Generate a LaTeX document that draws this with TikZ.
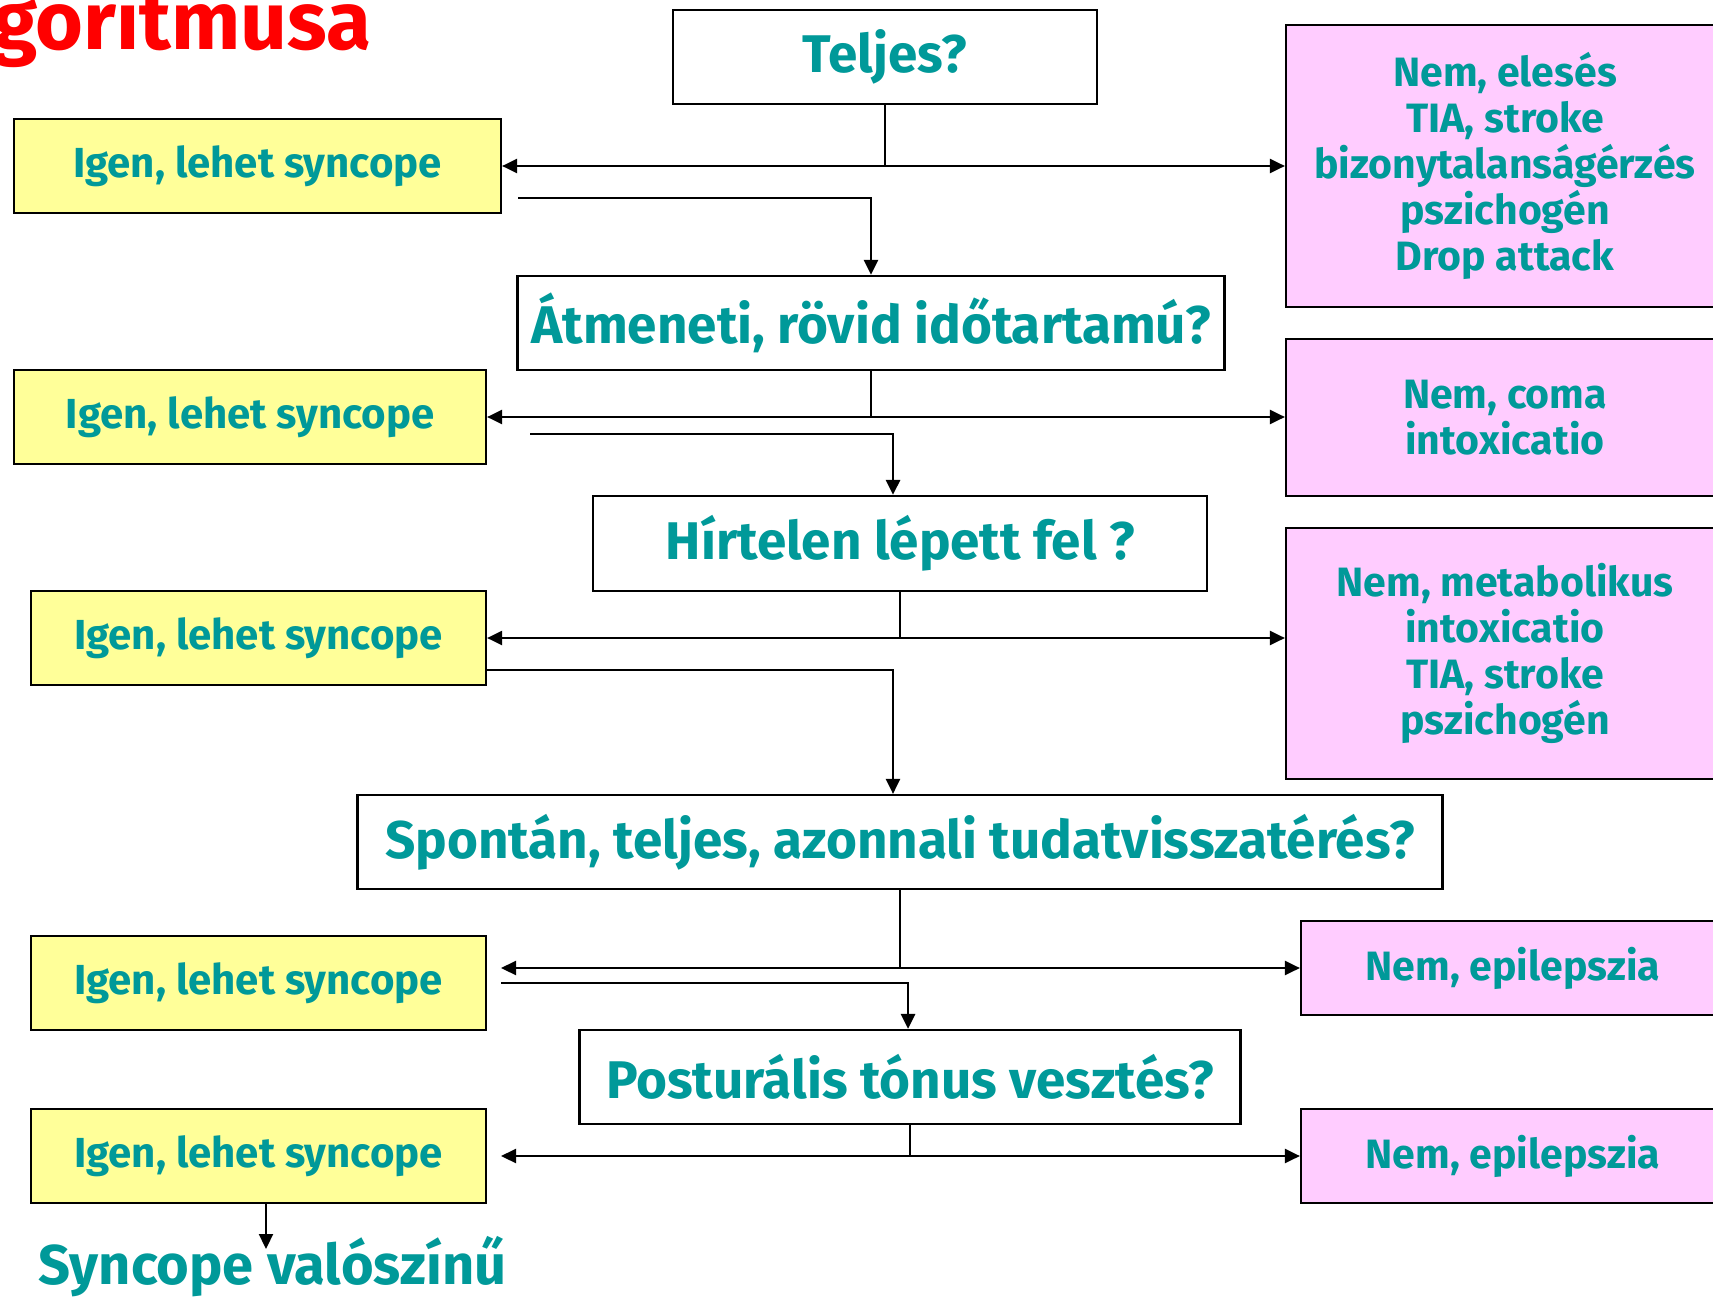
\documentclass[tikz,border=0pt]{standalone}
\usepackage{fontspec}
\setmainfont{Fira Sans}
\usetikzlibrary{arrows.meta}
\definecolor{tealc}{RGB}{0,153,153}
\definecolor{yelc}{RGB}{255,255,153}
\definecolor{pinkc}{RGB}{255,204,255}
\begin{document}
\begin{tikzpicture}[x=1pt,y=-1pt,
  box/.style={draw=black, line width=2.2pt, inner sep=0pt, text=tealc, align=center},
  qbox/.style={box, fill=white, font=\bfseries\fontsize{53}{60}\selectfont},
  ybox/.style={box, fill=yelc, font=\bfseries\fontsize{42}{46}\selectfont},
  pbox/.style={box, fill=pinkc, font=\bfseries\fontsize{41}{46}\selectfont},
  conn/.style={line width=2.2pt},
  arr/.style={conn, -{Triangle[length=15pt,width=14pt]}},
  thick conn/.style={line width=2.8pt},
  tarr/.style={thick conn, -{Triangle[length=15pt,width=14pt]}},
]
\useasboundingbox (0,0) rectangle (1713,1298);
\clip (0,0) rectangle (1713,1298);
\fill[white] (0,0) rectangle (1713,1298);

% title fragment
\node[anchor=base west, text=red, font=\bfseries\fontsize{82}{90}\selectfont, inner sep=0pt] (title) at (-8,49) {goritmusa};

% questions
\node[qbox, minimum width=424pt, minimum height=94pt] (q1) at (885,57) {Teljes?};
\node[qbox, minimum width=707pt, minimum height=94pt] (q2) at (871,323) {Átmeneti, rövid időtartamú?};
\node[qbox, minimum width=614pt, minimum height=95pt] (q3) at (900,543.5) {Hírtelen lépett fel ?};
\node[qbox, minimum width=1085pt, minimum height=94pt] (q4) at (900,842) {Spontán, teljes, azonnali tudatvisszatérés?};
\node[qbox, minimum width=661pt, minimum height=94pt] (q5) at (910,1077) {Posturális tónus vesztés?};

% yes boxes
\node[ybox, minimum width=487pt, minimum height=94pt] (y1) at (257.5,166) {Igen, lehet syncope};
\node[ybox, minimum width=472pt, minimum height=94pt] (y2) at (250,417) {Igen, lehet syncope};
\node[ybox, minimum width=455pt, minimum height=94pt] (y3) at (258.5,638) {Igen, lehet syncope};
\node[ybox, minimum width=455pt, minimum height=94pt] (y4) at (258.5,983) {Igen, lehet syncope};
\node[ybox, minimum width=455pt, minimum height=94pt] (y5) at (258.5,1156) {Igen, lehet syncope};

% no boxes
\node[pbox, minimum width=438pt, minimum height=282pt] (p1) at (1505,166) {Nem, elesés\\TIA, stroke\\bizonytalanságérzés\\pszichogén\\Drop attack};
\node[pbox, minimum width=438pt, minimum height=157pt] (p2) at (1505,417.5) {Nem, coma\\intoxicatio};
\node[pbox, minimum width=438pt, minimum height=251pt] (p3) at (1505,653.5) {Nem, metabolikus\\intoxicatio\\TIA, stroke\\pszichogén};
\node[pbox, minimum width=424pt, minimum height=94pt] (p4) at (1513,968) {Nem, epilepszia};
\node[pbox, minimum width=424pt, minimum height=94pt] (p5) at (1513,1156) {Nem, epilepszia};

% result
\node[anchor=base west, text=tealc, font=\bfseries\fontsize{56}{62}\selectfont, inner sep=0pt] (res) at (38,1284) {Syncope valószínű};

% connectors: Teljes
\coordinate (j1) at (q1.south |- y1.east);
\draw[conn] (q1.south) -- (j1);
\draw[arr] (j1) -- (y1.east);
\draw[arr] (j1) -- (j1 -| p1.west);
\coordinate (s2) at (518,198);
\draw[tarr] (s2) -| (q2.north);

% Atmeneti
\coordinate (j2) at (q2.south |- y2.east);
\draw[conn] (q2.south) -- (j2);
\draw[arr] (j2) -- (y2.east);
\draw[arr] (j2) -- (j2 -| p2.west);
\coordinate (s4) at (530,434);
\draw[tarr] (s4) -| ([xshift=-7pt]q3.north);

% Hirtelen
\coordinate (j3) at (q3.south |- y3.east);
\draw[conn] (q3.south) -- (j3);
\draw[arr] (j3) -- (y3.east);
\draw[arr] (j3) -- (j3 -| p3.west);
\draw[arr] ([yshift=-32pt]y3.east) -| ([xshift=-7pt]q4.north);

% Spontan
\coordinate (j4) at (q4.south |- p4.west);
\coordinate (e4) at (501,968);
\draw[conn] (q4.south) -- (j4);
\draw[arr] (j4) -- (e4);
\draw[arr] (j4) -- (p4.west);
\coordinate (s8) at (501,983);
\draw[tarr] (s8) -| ([xshift=-2pt]q5.north);

% Posturalis
\coordinate (j5) at (q5.south |- p5.west);
\coordinate (e5) at (501,1156);
\draw[conn] (q5.south) -- (j5);
\draw[arr] (j5) -- (e5);
\draw[arr] (j5) -- (p5.west);

% final
\coordinate (e10) at (266,1249);
\draw[arr] (y5.south -| e10) -- (e10);
\end{tikzpicture}
\end{document}
